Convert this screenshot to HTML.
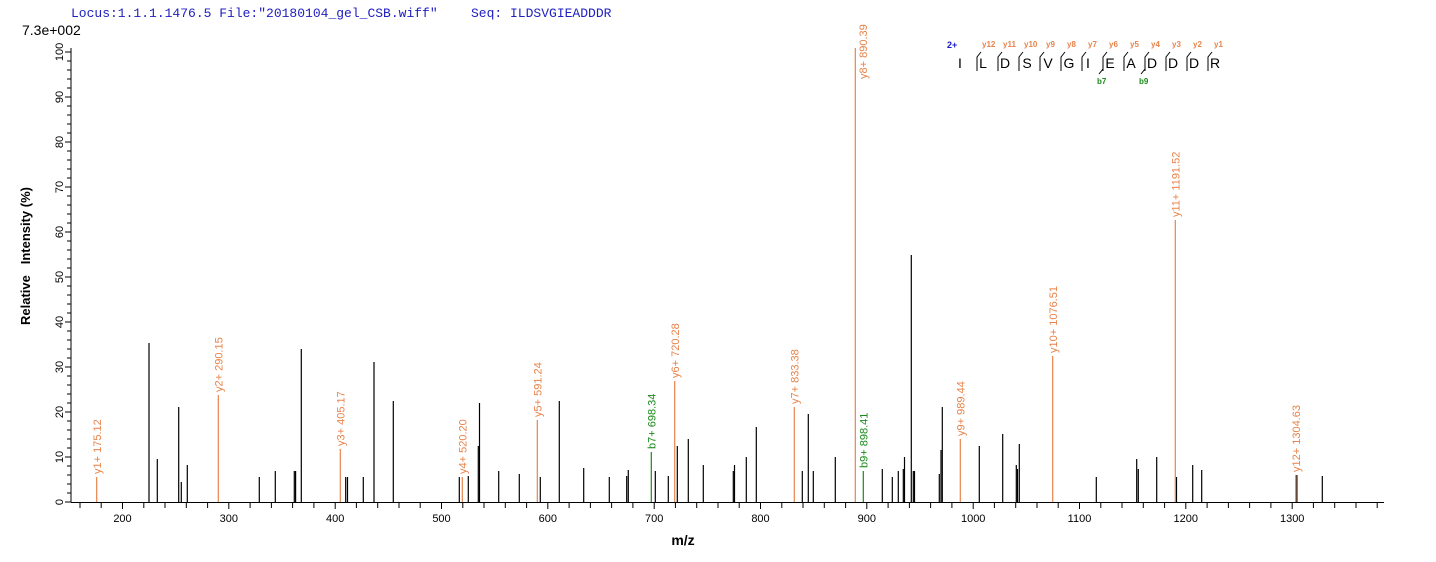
<!DOCTYPE html>
<html><head><meta charset="utf-8"><style>
html,body{margin:0;padding:0;background:#fff;}
svg{display:block;}
.o{stroke:#E8834A;stroke-width:1.2}
.k{stroke:#000;stroke-width:1.2}
.g{stroke:#1a8a1a;stroke-width:1.2}
.lo{fill:#E8834A;font:11px "Liberation Sans",sans-serif}
.lg{fill:#1a8a1a;font:11px "Liberation Sans",sans-serif}
.ax{font:11px "Liberation Sans",sans-serif;fill:#000}
</style></head><body>
<svg width="1436" height="562" viewBox="0 0 1436 562" xmlns="http://www.w3.org/2000/svg">
<text x="71" y="17" style="font:13px 'Liberation Mono',monospace;fill:#2020c0">Locus:1.1.1.1476.5 File:"20180104_gel_CSB.wiff"</text>
<text x="471" y="17" style="font:13px 'Liberation Mono',monospace;fill:#2020c0">Seq: ILDSVGIEADDDR</text>
<text x="22" y="35" style="font:14px 'Liberation Sans',sans-serif">7.3e+002</text>

<!-- axes -->
<line x1="71" y1="48" x2="71" y2="502.5" stroke="#000"/>
<line x1="71" y1="502.5" x2="1384" y2="502.5" stroke="#000"/>
<g stroke="#000">
<line x1="65" y1="502" x2="71" y2="502"/><line x1="67" y1="493" x2="71" y2="493"/><line x1="67" y1="484" x2="71" y2="484"/><line x1="67" y1="475" x2="71" y2="475"/><line x1="67" y1="466" x2="71" y2="466"/>
<line x1="65" y1="457" x2="71" y2="457"/><line x1="67" y1="448" x2="71" y2="448"/><line x1="67" y1="439" x2="71" y2="439"/><line x1="67" y1="430" x2="71" y2="430"/><line x1="67" y1="421" x2="71" y2="421"/>
<line x1="65" y1="412" x2="71" y2="412"/><line x1="67" y1="403" x2="71" y2="403"/><line x1="67" y1="394" x2="71" y2="394"/><line x1="67" y1="385" x2="71" y2="385"/><line x1="67" y1="376" x2="71" y2="376"/>
<line x1="65" y1="367" x2="71" y2="367"/><line x1="67" y1="358" x2="71" y2="358"/><line x1="67" y1="349" x2="71" y2="349"/><line x1="67" y1="340" x2="71" y2="340"/><line x1="67" y1="331" x2="71" y2="331"/>
<line x1="65" y1="322" x2="71" y2="322"/><line x1="67" y1="313" x2="71" y2="313"/><line x1="67" y1="304" x2="71" y2="304"/><line x1="67" y1="295" x2="71" y2="295"/><line x1="67" y1="286" x2="71" y2="286"/>
<line x1="65" y1="277" x2="71" y2="277"/><line x1="67" y1="268" x2="71" y2="268"/><line x1="67" y1="259" x2="71" y2="259"/><line x1="67" y1="250" x2="71" y2="250"/><line x1="67" y1="241" x2="71" y2="241"/>
<line x1="65" y1="232" x2="71" y2="232"/><line x1="67" y1="223" x2="71" y2="223"/><line x1="67" y1="214" x2="71" y2="214"/><line x1="67" y1="205" x2="71" y2="205"/><line x1="67" y1="196" x2="71" y2="196"/>
<line x1="65" y1="187" x2="71" y2="187"/><line x1="67" y1="178" x2="71" y2="178"/><line x1="67" y1="169" x2="71" y2="169"/><line x1="67" y1="160" x2="71" y2="160"/><line x1="67" y1="151" x2="71" y2="151"/>
<line x1="65" y1="142" x2="71" y2="142"/><line x1="67" y1="133" x2="71" y2="133"/><line x1="67" y1="124" x2="71" y2="124"/><line x1="67" y1="115" x2="71" y2="115"/><line x1="67" y1="106" x2="71" y2="106"/>
<line x1="65" y1="97" x2="71" y2="97"/><line x1="67" y1="88" x2="71" y2="88"/><line x1="67" y1="79" x2="71" y2="79"/><line x1="67" y1="70" x2="71" y2="70"/><line x1="67" y1="61" x2="71" y2="61"/>
<line x1="65" y1="52" x2="71" y2="52"/>
</g>
<g class="ax" text-anchor="middle">
<text transform="translate(63,502) rotate(-90)">0</text>
<text transform="translate(63,457) rotate(-90)">10</text>
<text transform="translate(63,412) rotate(-90)">20</text>
<text transform="translate(63,367) rotate(-90)">30</text>
<text transform="translate(63,322) rotate(-90)">40</text>
<text transform="translate(63,277) rotate(-90)">50</text>
<text transform="translate(63,232) rotate(-90)">60</text>
<text transform="translate(63,187) rotate(-90)">70</text>
<text transform="translate(63,142) rotate(-90)">80</text>
<text transform="translate(63,97) rotate(-90)">90</text>
<text transform="translate(63,52) rotate(-90)">100</text>
</g>
<text transform="translate(30,256) rotate(-90)" text-anchor="middle" style="font:bold 13px 'Liberation Sans',sans-serif;white-space:pre" xml:space="preserve">Relative   Intensity (%)</text>
<text x="683" y="545" text-anchor="middle" style="font:bold 14px 'Liberation Sans',sans-serif">m/z</text>

<g stroke="#000">
<line x1="80" y1="502" x2="80" y2="508"/><line x1="101.2" y1="502" x2="101.2" y2="508"/><line x1="122.5" y1="502" x2="122.5" y2="509"/><line x1="143.8" y1="502" x2="143.8" y2="508"/><line x1="165" y1="502" x2="165" y2="508"/><line x1="186.3" y1="502" x2="186.3" y2="508"/><line x1="207.6" y1="502" x2="207.6" y2="508"/>
<line x1="228.8" y1="502" x2="228.8" y2="509"/><line x1="250.1" y1="502" x2="250.1" y2="508"/><line x1="271.4" y1="502" x2="271.4" y2="508"/><line x1="292.6" y1="502" x2="292.6" y2="508"/><line x1="313.9" y1="502" x2="313.9" y2="508"/>
<line x1="335.2" y1="502" x2="335.2" y2="509"/><line x1="356.4" y1="502" x2="356.4" y2="508"/><line x1="377.7" y1="502" x2="377.7" y2="508"/><line x1="399" y1="502" x2="399" y2="508"/><line x1="420.2" y1="502" x2="420.2" y2="508"/>
<line x1="441.5" y1="502" x2="441.5" y2="509"/><line x1="462.8" y1="502" x2="462.8" y2="508"/><line x1="484" y1="502" x2="484" y2="508"/><line x1="505.3" y1="502" x2="505.3" y2="508"/><line x1="526.6" y1="502" x2="526.6" y2="508"/>
<line x1="547.8" y1="502" x2="547.8" y2="509"/><line x1="569.1" y1="502" x2="569.1" y2="508"/><line x1="590.4" y1="502" x2="590.4" y2="508"/><line x1="611.6" y1="502" x2="611.6" y2="508"/><line x1="632.9" y1="502" x2="632.9" y2="508"/>
<line x1="654.2" y1="502" x2="654.2" y2="509"/><line x1="675.4" y1="502" x2="675.4" y2="508"/><line x1="696.7" y1="502" x2="696.7" y2="508"/><line x1="718" y1="502" x2="718" y2="508"/><line x1="739.2" y1="502" x2="739.2" y2="508"/>
<line x1="760.5" y1="502" x2="760.5" y2="509"/><line x1="781.8" y1="502" x2="781.8" y2="508"/><line x1="803" y1="502" x2="803" y2="508"/><line x1="824.3" y1="502" x2="824.3" y2="508"/><line x1="845.6" y1="502" x2="845.6" y2="508"/>
<line x1="866.8" y1="502" x2="866.8" y2="509"/><line x1="888.1" y1="502" x2="888.1" y2="508"/><line x1="909.4" y1="502" x2="909.4" y2="508"/><line x1="930.6" y1="502" x2="930.6" y2="508"/><line x1="951.9" y1="502" x2="951.9" y2="508"/>
<line x1="973.2" y1="502" x2="973.2" y2="509"/><line x1="994.4" y1="502" x2="994.4" y2="508"/><line x1="1015.7" y1="502" x2="1015.7" y2="508"/><line x1="1037" y1="502" x2="1037" y2="508"/><line x1="1058.2" y1="502" x2="1058.2" y2="508"/>
<line x1="1079.5" y1="502" x2="1079.5" y2="509"/><line x1="1100.8" y1="502" x2="1100.8" y2="508"/><line x1="1122" y1="502" x2="1122" y2="508"/><line x1="1143.3" y1="502" x2="1143.3" y2="508"/><line x1="1164.6" y1="502" x2="1164.6" y2="508"/>
<line x1="1185.8" y1="502" x2="1185.8" y2="509"/><line x1="1207.1" y1="502" x2="1207.1" y2="508"/><line x1="1228.4" y1="502" x2="1228.4" y2="508"/><line x1="1249.6" y1="502" x2="1249.6" y2="508"/><line x1="1270.9" y1="502" x2="1270.9" y2="508"/>
<line x1="1292.2" y1="502" x2="1292.2" y2="509"/><line x1="1313.4" y1="502" x2="1313.4" y2="508"/><line x1="1334.7" y1="502" x2="1334.7" y2="508"/><line x1="1356" y1="502" x2="1356" y2="508"/><line x1="1377.2" y1="502" x2="1377.2" y2="508"/>
</g>
<g class="ax" text-anchor="middle">
<text x="122.5" y="522">200</text><text x="228.8" y="522">300</text><text x="335.2" y="522">400</text><text x="441.5" y="522">500</text><text x="547.8" y="522">600</text><text x="654.2" y="522">700</text><text x="760.5" y="522">800</text><text x="866.8" y="522">900</text><text x="973.2" y="522">1000</text><text x="1079.5" y="522">1100</text><text x="1185.8" y="522">1200</text><text x="1292.2" y="522">1300</text>
</g>

<!-- black peaks -->
<g class="k">
<line x1="149" y1="502" x2="149" y2="343"/><line x1="157.3" y1="502" x2="157.3" y2="459"/><line x1="178.7" y1="502" x2="178.7" y2="407"/><line x1="181.3" y1="502" x2="181.3" y2="482"/><line x1="187.3" y1="502" x2="187.3" y2="465"/>
<line x1="259.3" y1="502" x2="259.3" y2="477"/><line x1="275.3" y1="502" x2="275.3" y2="471"/><line x1="294.3" y1="502" x2="294.3" y2="471"/><line x1="295.6" y1="502" x2="295.6" y2="471"/><line x1="301.3" y1="502" x2="301.3" y2="349"/>
<line x1="345.7" y1="502" x2="345.7" y2="477"/><line x1="347.5" y1="502" x2="347.5" y2="477"/><line x1="363.3" y1="502" x2="363.3" y2="477"/><line x1="374" y1="502" x2="374" y2="362"/><line x1="393.3" y1="502" x2="393.3" y2="401"/>
<line x1="459.3" y1="502" x2="459.3" y2="477"/><line x1="468.3" y1="502" x2="468.3" y2="476"/><line x1="478.3" y1="502" x2="478.3" y2="446"/><line x1="479.5" y1="502" x2="479.5" y2="403"/><line x1="498.7" y1="502" x2="498.7" y2="471"/>
<line x1="519.3" y1="502" x2="519.3" y2="474"/><line x1="540.3" y1="502" x2="540.3" y2="477"/><line x1="559.3" y1="502" x2="559.3" y2="401"/><line x1="583.7" y1="502" x2="583.7" y2="468"/><line x1="609.3" y1="502" x2="609.3" y2="477"/>
<line x1="626.7" y1="502" x2="626.7" y2="476"/><line x1="628.3" y1="502" x2="628.3" y2="470"/><line x1="655.3" y1="502" x2="655.3" y2="471"/><line x1="668.3" y1="502" x2="668.3" y2="476"/><line x1="677.3" y1="502" x2="677.3" y2="446"/>
<line x1="688.3" y1="502" x2="688.3" y2="439"/><line x1="703.3" y1="502" x2="703.3" y2="465"/><line x1="733.3" y1="502" x2="733.3" y2="471"/><line x1="734.5" y1="502" x2="734.5" y2="465"/><line x1="746.3" y1="502" x2="746.3" y2="457"/>
<line x1="756.3" y1="502" x2="756.3" y2="427"/><line x1="802.3" y1="502" x2="802.3" y2="471"/><line x1="808.3" y1="502" x2="808.3" y2="414"/><line x1="813.3" y1="502" x2="813.3" y2="471"/><line x1="835.3" y1="502" x2="835.3" y2="457"/>
<line x1="882.3" y1="502" x2="882.3" y2="469"/><line x1="892.3" y1="502" x2="892.3" y2="477"/><line x1="898.3" y1="502" x2="898.3" y2="471"/><line x1="903.3" y1="502" x2="903.3" y2="469"/><line x1="904.5" y1="502" x2="904.5" y2="457"/>
<line x1="911.3" y1="502" x2="911.3" y2="255"/><line x1="913.3" y1="502" x2="913.3" y2="471"/><line x1="914.5" y1="502" x2="914.5" y2="471"/><line x1="939.3" y1="502" x2="939.3" y2="474"/><line x1="941" y1="502" x2="941" y2="450"/>
<line x1="942.3" y1="502" x2="942.3" y2="407"/><line x1="979.3" y1="502" x2="979.3" y2="446"/><line x1="1002.7" y1="502" x2="1002.7" y2="434"/><line x1="1016.3" y1="502" x2="1016.3" y2="465"/><line x1="1017.5" y1="502" x2="1017.5" y2="469"/>
<line x1="1019.3" y1="502" x2="1019.3" y2="444"/><line x1="1096.3" y1="502" x2="1096.3" y2="477"/><line x1="1136.7" y1="502" x2="1136.7" y2="459"/><line x1="1138.3" y1="502" x2="1138.3" y2="469"/><line x1="1156.7" y1="502" x2="1156.7" y2="457"/>
<line x1="1176.5" y1="502" x2="1176.5" y2="477"/><line x1="1192.7" y1="502" x2="1192.7" y2="465"/><line x1="1201.7" y1="502" x2="1201.7" y2="470"/><line x1="1296.9" y1="502" x2="1296.9" y2="475"/><line x1="1322.3" y1="502" x2="1322.3" y2="476"/>
</g>

<!-- annotated peaks -->
<g class="o">
<line x1="96.7" y1="502" x2="96.7" y2="477"/><line x1="218.3" y1="502" x2="218.3" y2="395"/><line x1="340.3" y1="502" x2="340.3" y2="449"/><line x1="462.3" y1="502" x2="462.3" y2="477"/>
<line x1="537.3" y1="502" x2="537.3" y2="420"/><line x1="674.7" y1="502" x2="674.7" y2="381"/><line x1="794.3" y1="502" x2="794.3" y2="407"/><line x1="855.3" y1="502" x2="855.3" y2="48"/>
<line x1="960.3" y1="502" x2="960.3" y2="439"/><line x1="1052.7" y1="502" x2="1052.7" y2="356"/><line x1="1175.3" y1="502" x2="1175.3" y2="220"/><line x1="1295.7" y1="502" x2="1295.7" y2="475"/>
</g>
<g class="g">
<line x1="651.3" y1="502" x2="651.3" y2="452"/><line x1="863.3" y1="502" x2="863.3" y2="471"/>
</g>
<g class="lo">
<text transform="translate(101,474) rotate(-90)">y1+ 175.12</text>
<text transform="translate(222.5,392) rotate(-90)">y2+ 290.15</text>
<text transform="translate(344.5,446) rotate(-90)">y3+ 405.17</text>
<text transform="translate(466.5,474) rotate(-90)">y4+ 520.20</text>
<text transform="translate(541.5,417) rotate(-90)">y5+ 591.24</text>
<text transform="translate(679,378) rotate(-90)">y6+ 720.28</text>
<text transform="translate(798.5,404) rotate(-90)">y7+ 833.38</text>
<text transform="translate(867,79) rotate(-90)">y8+ 890.39</text>
<text transform="translate(964.5,436) rotate(-90)">y9+ 989.44</text>
<text transform="translate(1057,353) rotate(-90)">y10+ 1076.51</text>
<text transform="translate(1179.5,217) rotate(-90)">y11+ 1191.52</text>
<text transform="translate(1300,472) rotate(-90)">y12+ 1304.63</text>
</g>
<g class="lg">
<text transform="translate(655.5,449) rotate(-90)">b7+ 698.34</text>
<text transform="translate(867.5,468) rotate(-90)">b9+ 898.41</text>
</g>

<!-- sequence -->
<text x="947" y="48" style="font:bold 9px 'Liberation Sans',sans-serif;fill:#1a1acc">2+</text>
<g style="font:14px 'Liberation Sans',sans-serif" text-anchor="middle">
<text x="960" y="68">I</text><text x="983" y="68">L</text><text x="1005" y="68">D</text><text x="1027" y="68">S</text><text x="1048" y="68">V</text><text x="1069" y="68">G</text><text x="1088" y="68">I</text><text x="1110" y="68">E</text><text x="1131" y="68">A</text><text x="1152" y="68">D</text><text x="1173" y="68">D</text><text x="1194" y="68">D</text><text x="1215" y="68">R</text>
</g>
<g stroke="#000" stroke-width="1" fill="none">
<path d="M977,71 V57 L981,52"/><path d="M998,71 V57 L1002,52"/><path d="M1019,71 V57 L1023,52"/><path d="M1040,71 V57 L1044,52"/><path d="M1061,71 V57 L1065,52"/><path d="M1082,71 V57 L1086,52"/>
<path d="M1103,71 V57 L1107,52"/><path d="M1124,71 V57 L1128,52"/><path d="M1145,71 V57 L1149,52"/><path d="M1166,71 V57 L1170,52"/><path d="M1187,71 V57 L1191,52"/><path d="M1208,71 V57 L1212,52"/>
<path d="M1103,71 V69 L1099,74"/><path d="M1145,71 V69 L1141,74"/>
</g>
<g style="font:bold 8px 'Liberation Sans',sans-serif;fill:#E8834A">
<text x="982" y="47">y12</text><text x="1003" y="47">y11</text><text x="1024" y="47">y10</text><text x="1046" y="47">y9</text><text x="1067" y="47">y8</text><text x="1088" y="47">y7</text><text x="1109" y="47">y6</text><text x="1130" y="47">y5</text><text x="1151" y="47">y4</text><text x="1172" y="47">y3</text><text x="1193" y="47">y2</text><text x="1214" y="47">y1</text>
</g>
<g style="font:bold 8px 'Liberation Sans',sans-serif;fill:#1a8a1a">
<text x="1097" y="84">b7</text><text x="1139" y="84">b9</text>
</g>
</svg>
</body></html>
